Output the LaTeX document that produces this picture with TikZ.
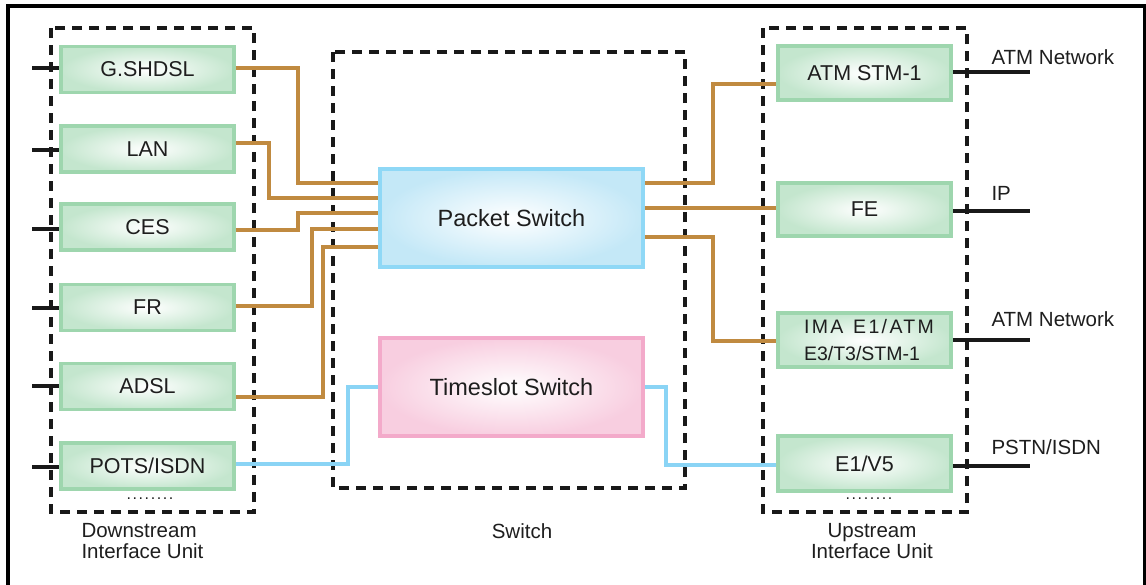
\documentclass[tikz,border=0pt]{standalone}
\usepackage{fontspec}
\setmainfont{Liberation Sans}
\usetikzlibrary{calc}
\definecolor{gborder}{RGB}{158,214,174}
\definecolor{gfill}{RGB}{196,230,206}
\definecolor{bborder}{RGB}{143,216,246}
\definecolor{bfill}{RGB}{196,232,247}
\definecolor{pborder}{RGB}{243,170,202}
\definecolor{pfill}{RGB}{248,206,224}
\definecolor{orng}{RGB}{192,138,64}
\definecolor{bline}{RGB}{138,212,245}
\definecolor{txt}{RGB}{30,30,30}
\tikzset{
  ifbox/.style={draw=gborder, line width=3.5pt, inner color=white, outer color=gfill, minimum width=173pt, text=txt, font=\fontsize{21.5}{23}\selectfont},
  unitbox/.style={draw=black!90, line width=3.5pt, dash pattern=on 10pt off 7pt},
  plink/.style={draw=orng, line width=3.5pt},
  tlink/.style={draw=bline, line width=3.5pt},
  stub/.style={draw=black!90, line width=3.5pt},
  lbl/.style={text=txt, font=\fontsize{20.5}{22}\selectfont},
  captxt/.style={text=txt, font=\fontsize{20.5}{20.5}\selectfont, align=center},
  swbox/.style={line width=3.5pt, inner color=white, minimum width=263pt, minimum height=98pt, text=txt, font=\fontsize{23.5}{25}\selectfont},
}
\begin{document}
\begin{tikzpicture}[x=1pt,y=-1pt]
\useasboundingbox (0,0) rectangle (1146,584);
% outer frame
\draw[line width=3.5pt, black] (8,590) -- (8,6) -- (1145,6) -- (1145,590);
% dashed units
\draw[unitbox] (51,28) rectangle (254,512);
\draw[unitbox] (333,52) rectangle (685,488);
\draw[unitbox] (763,28) rectangle (967,512);
% downstream boxes
\node[ifbox, minimum height=46pt] (gsh) at (147.5,69.5) {G.SHDSL};
\node[ifbox, minimum height=46pt] (lan) at (147.5,149) {LAN};
\node[ifbox, minimum height=46pt] (ces) at (147.5,227) {CES};
\node[ifbox, minimum height=46pt] (fr) at (147.5,307.5) {FR};
\node[ifbox, minimum height=46pt] (adsl) at (147.5,386.5) {ADSL};
\node[ifbox, minimum height=46pt] (pots) at (147.5,466) {POTS/ISDN};
% upstream boxes
\node[ifbox, minimum height=54pt] (stm) at (864.5,73) {ATM STM-1};
\node[ifbox, minimum height=53pt] (fe) at (864.5,209.5) {FE};
\node[ifbox, minimum height=54pt] (ima) at (864.5,340) {};
\node[text=txt, font=\fontsize{19.5}{21}\selectfont] (imat1) at (869,327) {\addfontfeature{LetterSpace=12}IMA\hspace{0.5em}E1/ATM};
\node[text=txt, font=\fontsize{19.5}{21}\selectfont] (imat2) at (862,354) {E3/T3/STM-1};
\node[ifbox, minimum height=55pt] (e1v5) at (864.5,463.5) {E1/V5};
% switches
\node[swbox, draw=bborder, outer color=bfill] (ps) at (511.5,218) {Packet Switch};
\node[swbox, draw=pborder, outer color=pfill] (ts) at (511.5,387) {Timeslot Switch};
% left stubs
\foreach \n/\y in {gsh/68, lan/150, ces/229, fr/308, adsl/386, pots/467}{
  \coordinate (s\n) at (32,\y);
  \draw[stub] (s\n) -- (\n.west |- s\n);
}
% right stubs
\foreach \n/\y in {stm/72, fe/211, ima/340, e1v5/466}{
  \coordinate (r\n) at (1030,\y);
  \draw[stub] (\n.east |- r\n) -- (r\n);
}
% packet links left
\draw[plink] (gsh.east |- 0,68) -| (298,183) -- (ps.west |- 0,183);
\draw[plink] (lan.east |- 0,143) -| (269,198) -- (ps.west |- 0,198);
\draw[plink] (ces.east |- 0,230) -| (298,213) -- (ps.west |- 0,213);
\draw[plink] (fr.east |- 0,306) -| (312,229) -- (ps.west |- 0,229);
\draw[plink] (adsl.east |- 0,397) -| (323,247) -- (ps.west |- 0,247);
% timeslot links
\draw[tlink] (pots.east |- 0,464) -| (348,387) -- (ts.west);
\draw[tlink] (ts.east) -| (666,465) -- (e1v5.west |- 0,465);
% packet links right
\draw[plink] (ps.east |- 0,183) -| (713,84) -- (stm.west |- 0,84);
\draw[plink] (ps.east |- 0,208) -- (fe.west |- 0,208);
\draw[plink] (ps.east |- 0,237) -| (713,341) -- (ima.west |- 0,341);
% dots
\node[text=txt, font=\fontsize{16}{16}\selectfont] (dd) at (150,499) {\addfontfeature{LetterSpace=10}........};
\node[text=txt, font=\fontsize{16}{16}\selectfont] (ud) at (869,499) {\addfontfeature{LetterSpace=10}........};
% network labels
\node[lbl, anchor=west] (l1) at (988,57) {ATM Network};
\node[lbl, anchor=west] (l2) at (988,193) {IP};
\node[lbl, anchor=west] (l3) at (988,319) {ATM Network};
\node[lbl, anchor=west] (l4) at (988,447) {PSTN/ISDN};
% captions
\node[captxt, anchor=north west, align=left] (c1) at (78,520) {Downstream\\Interface Unit};
\node[captxt] (c2) at (522,531) {Switch};
\node[captxt] (c3) at (872,541) {Upstream\\Interface Unit};
\end{tikzpicture}
\end{document}
